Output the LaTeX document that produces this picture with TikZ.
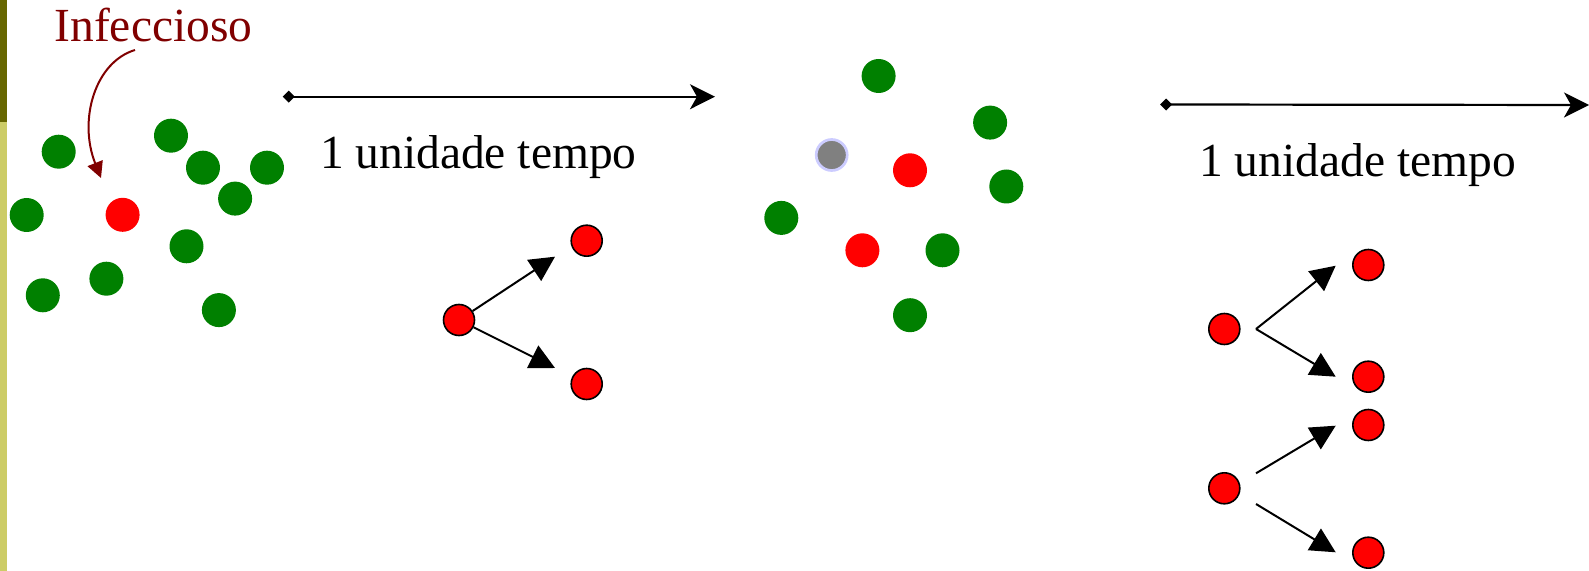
\documentclass[tikz,border=0pt]{standalone}
\usepackage{fontspec}
\setmainfont{Liberation Serif}
\newfontfamily\lblfont{Liberation Serif}
\usetikzlibrary{arrows.meta}
\definecolor{olivedark}{HTML}{666600}
\definecolor{olivelight}{HTML}{CCCC66}
\definecolor{dotgreen}{HTML}{008000}
\definecolor{dotred}{HTML}{FF0000}
\definecolor{infred}{HTML}{800000}
\definecolor{ringblue}{HTML}{CCCCFF}
\tikzset{
  gdot/.style={circle,fill=dotgreen,inner sep=0pt,minimum size=17pt},
  rdot/.style={circle,fill=dotred,inner sep=0pt,minimum size=17pt},
  graydot/.style={circle,fill=gray,draw=ringblue,line width=1.35pt,inner sep=0pt,minimum size=15.5pt},
  rout/.style={circle,fill=dotred,draw=black,line width=0.8pt,inner sep=0pt,minimum size=15.5pt},
  timearrow/.style={line width=1.1pt,{Diamond[length=6pt,width=6pt]}-{Stealth[length=12.5pt,width=12.5pt,inset=3.5pt]}},
  splitarrow/.style={line width=1pt,-{Triangle[length=12.5pt,width=12.5pt]}},
  lbl/.style={font=\lblfont\fontsize{23.75pt}{28pt}\selectfont,inner sep=0pt,anchor=base}
}
\begin{document}
\begin{tikzpicture}[x=0.5pt,y=-0.5pt]
\useasboundingbox (0,0) rectangle (1589,571);
\fill[olivedark] (0,0) rectangle (7,122);
\fill[olivelight] (0,122) rectangle (7,571);
% left group
\node[gdot] (g1) at (58.7,151.7) {};
\node[gdot] (g2) at (171,135.7) {};
\node[gdot] (g3) at (203,167.7) {};
\node[gdot] (g4) at (267,167.7) {};
\node[gdot] (g5) at (235.1,198.6) {};
\node[gdot] (g6) at (26.7,215) {};
\node[rdot] (r0) at (122.6,214.8) {};
\node[gdot] (g7) at (186.5,246.3) {};
\node[gdot] (g8) at (106.4,278.7) {};
\node[gdot] (g9) at (42.8,295.3) {};
\node[gdot] (g10) at (218.9,310.1) {};
% label
\node[lbl,text=infred] (inf) at (153.5,42) {Infeccioso};
\coordinate (infs) at (135,50);
\coordinate (inft) at (101,178);
\draw[infred,line width=1pt,-{Triangle[length=8pt,width=8pt]}] (infs) .. controls (95,62) and (78,120) .. (inft);
% time arrows
\coordinate (a1s) at (282.7,96.7);
\coordinate (a1e) at (715,96.7);
\draw[timearrow] (a1s) -- (a1e);
\node[lbl] (t1) at (478.3,168.3) {1 unidade tempo};
\coordinate (a2s) at (1160,104.5);
\coordinate (a2e) at (1589,105);
\draw[timearrow] (a2s) -- (a2e);
\node[lbl] (t2) at (1357.5,176.7) {1 unidade tempo};
% first split
\node[rout] (p) at (459,320) {};
\node[rout] (c1) at (586.7,240.7) {};
\node[rout] (c2) at (586.7,384) {};
\coordinate (p1t) at (555,256.7);
\coordinate (p2t) at (555,368);
\draw[splitarrow] (p) -- (p1t);
\draw[splitarrow] (p) -- (p2t);
% middle group
\node[gdot] (m1) at (878.6,76) {};
\node[gdot] (m2) at (990.1,122.6) {};
\node[gdot] (m3) at (1006.3,186.5) {};
\node[gdot] (m4) at (781.3,217.9) {};
\node[gdot] (m5) at (942.5,250.3) {};
\node[gdot] (m6) at (910,315.2) {};
\node[graydot] (mg) at (831.7,155) {};
\node[rdot] (mr1) at (910,170.3) {};
\node[rdot] (mr2) at (862.4,250.3) {};
% right splits
\node[rout] (q1) at (1224.3,329) {};
\node[rout] (q2) at (1224.3,488.3) {};
\node[rout] (d1) at (1368.3,265) {};
\node[rout] (d2) at (1368.3,376.7) {};
\node[rout] (d3) at (1368.3,425) {};
\node[rout] (d4) at (1368.3,552.7) {};
\coordinate (v1) at (1256,329);
\coordinate (v1a) at (1335.7,265.7);
\coordinate (v1b) at (1335.7,376.7);
\draw[splitarrow] (v1) -- (v1a);
\draw[splitarrow] (v1) -- (v1b);
\coordinate (v2s) at (1256,473.3);
\coordinate (v2a) at (1335.7,425.7);
\coordinate (v3s) at (1256,504);
\coordinate (v3a) at (1335.7,552.3);
\draw[splitarrow] (v2s) -- (v2a);
\draw[splitarrow] (v3s) -- (v3a);
\end{tikzpicture}
\end{document}
